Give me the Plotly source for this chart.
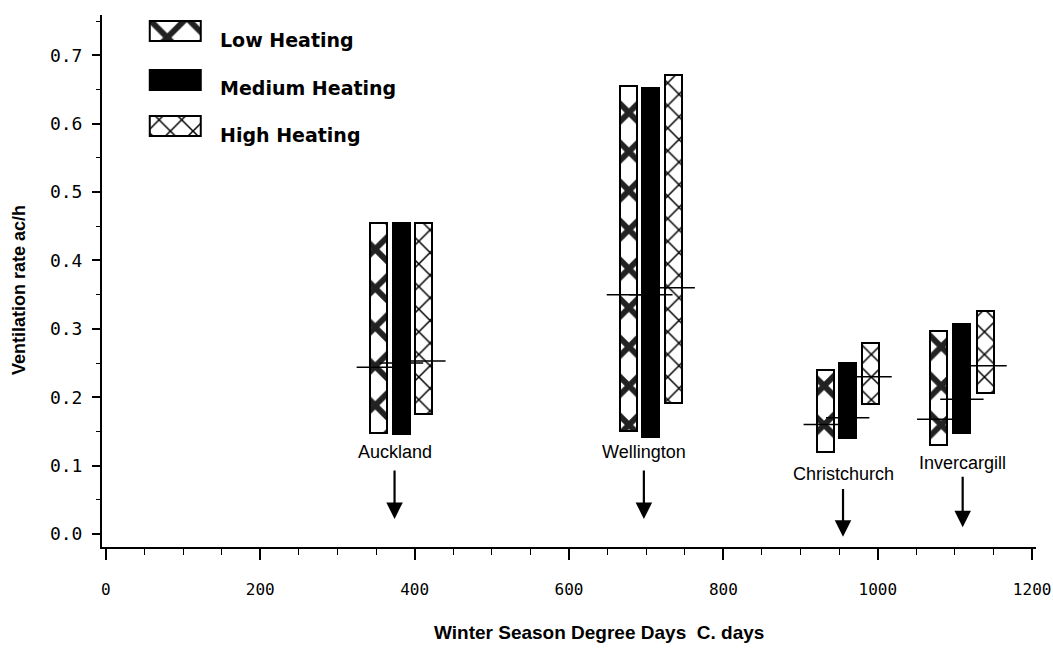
import plotly.graph_objects as go

# ---------------- data ----------------
cities = ["Auckland", "Wellington", "Christchurch", "Invercargill"]
degree_days = [374, 697, 955, 1110]          # arrow positions (C. days)

low_x = [353, 677, 932, 1079]
med_x = [383, 706, 961, 1109]
high_x = [412, 735, 990, 1139]

low_min = [0.148, 0.150, 0.120, 0.130]
low_max = [0.455, 0.655, 0.240, 0.297]
low_mean = [0.244, 0.350, 0.160, 0.168]

med_min = [0.146, 0.142, 0.140, 0.148]
med_max = [0.455, 0.652, 0.250, 0.307]
med_mean = [0.250, 0.350, 0.170, 0.197]

high_min = [0.175, 0.191, 0.190, 0.206]
high_max = [0.455, 0.671, 0.280, 0.326]
high_mean = [0.253, 0.360, 0.230, 0.246]

series_names = ["Low Heating", "Medium Heating", "High Heating"]
y_ticks = [0.0, 0.1, 0.2, 0.3, 0.4, 0.5, 0.6, 0.7]
x_ticks = [0, 200, 400, 600, 800, 1000, 1200]

# annotation placement (value-axis units)
label_y = [0.120, 0.120, 0.088, 0.104]
arrow_tail = [0.095, 0.095, 0.068, 0.086]
arrow_tip = [0.022, 0.022, -0.004, 0.010]

# ---------------- styles ----------------
BAR_W = 22
X_RANGE = [-5, 1205]
ML, MR = 102, 17
PLOT_W = 1053 - ML - MR
PAT_SHIFT = 0  # px offset of the low-heating pattern subplot (aligns hatch motif)
px_per_unit = PLOT_W / (X_RANGE[1] - X_RANGE[0])

low_pat = dict(shape="x", size=27.6, solidity=0.38, fgcolor="#222222", fgopacity=1,
               bgcolor="white")
high_pat = dict(shape="x", size=16, solidity=0.18, fgcolor="black", fgopacity=1,
                bgcolor="white")
outline = dict(color="black", width=2)

fig = go.Figure()


def diff(a, b):
    return [hi - lo for lo, hi in zip(a, b)]


fig.add_trace(go.Bar(x=med_x, y=diff(med_min, med_max), base=med_min, width=BAR_W,
                     marker=dict(color="black", line=outline),
                     name=series_names[1], showlegend=False))
fig.add_trace(go.Bar(x=high_x, y=diff(high_min, high_max), base=high_min, width=BAR_W,
                     marker=dict(color="white", line=outline, pattern=high_pat),
                     name=series_names[2], showlegend=False))
# low heating bars on an identical-scale x axis (separate subplot for pattern phase)
fig.add_trace(go.Bar(x=low_x, y=diff(low_min, low_max), base=low_min, width=BAR_W,
                     marker=dict(color="white", line=outline, pattern=low_pat),
                     name=series_names[0], showlegend=False, xaxis="x3", yaxis="y"))

for xs, ms in [(low_x, low_mean), (med_x, med_mean), (high_x, high_mean)]:
    fig.add_trace(go.Scatter(x=xs, y=ms, mode="markers", showlegend=False,
                             xaxis="x3", yaxis="y", cliponaxis=False,
                             marker=dict(symbol="line-ew", size=31,
                                         line=dict(color="black", width=1.5))))

# legend swatches on a hidden sub-axis
sw_y = [31, 79.5, 126]
sw_markers = [dict(color="white", line=outline, pattern=low_pat),
              dict(color="black", line=outline),
              dict(color="white", line=outline, pattern=high_pat)]
for yy, mk in zip(sw_y, sw_markers):
    fig.add_trace(go.Bar(x=[1], y=[yy], base=0, orientation="h", width=20,
                         marker=mk, xaxis="x2", yaxis="y2", showlegend=False))

annotations = []
for name, yy in zip(series_names, [0.953, 0.8628, 0.7744]):
    annotations.append(dict(xref="paper", yref="paper", x=0.1242, y=yy,
                            xanchor="left", yanchor="middle", showarrow=False,
                            text=name,
                            font=dict(family="DejaVu Sans", size=19, weight="bold",
                                      color="black")))

for c, dd, ly, t0, t1 in zip(cities, degree_days, label_y, arrow_tail, arrow_tip):
    annotations.append(dict(x=dd, y=ly, xref="x", yref="y", text=c, showarrow=False,
                            xanchor="center", yanchor="middle",
                            font=dict(family="Liberation Sans", size=18, color="black")))
    annotations.append(dict(x=dd, y=t1, ax=dd, ay=t0, xref="x", yref="y",
                            axref="x", ayref="y", text="", showarrow=True,
                            arrowhead=2, arrowsize=1.5, arrowwidth=2.2,
                            arrowcolor="black"))

annotations.append(dict(xref="paper", yref="paper", x=0.532, y=-0.16,
                        text="Winter Season Degree Days  C. days", showarrow=False,
                        xanchor="center", yanchor="middle",
                        font=dict(family="Liberation Sans", size=19, weight="bold",
                                  color="black")))
annotations.append(dict(xref="paper", yref="paper", x=-0.0889, y=0.483,
                        text="Ventilation rate ac/h", showarrow=False, textangle=-90,
                        xanchor="center", yanchor="middle",
                        font=dict(family="Liberation Sans", size=18, weight="bold",
                                  color="black")))

fig.update_layout(
    width=1053, height=649,
    margin=dict(l=ML, r=MR, t=15, b=102, autoexpand=False),
    paper_bgcolor="white", plot_bgcolor="rgba(0,0,0,0)",
    barmode="overlay", bargap=0,
    annotations=annotations,
    xaxis=dict(range=X_RANGE, tickvals=x_ticks, ticks="outside", ticklen=11,
               tickwidth=1.5, tickcolor="black", showline=True, linecolor="black",
               linewidth=2, showgrid=False, zeroline=False, automargin=False,
               minor=dict(dtick=50, tick0=0, ticks="outside", ticklen=6,
                          tickwidth=1.2, tickcolor="black"),
               tickfont=dict(family="DejaVu Sans Mono", size=16, color="black"),
               ticklabelstandoff=16, ticklabeloverflow="allow"),
    xaxis3=dict(domain=[PAT_SHIFT / PLOT_W, 1],
                range=[X_RANGE[0] + PAT_SHIFT / px_per_unit, X_RANGE[1]],
                anchor="y", visible=False, showgrid=False, zeroline=False,
                automargin=False),
    yaxis=dict(range=[-0.019, 0.759], tickvals=y_ticks, tickformat=".1f",
               ticks="outside", ticklen=8, tickwidth=1.5, tickcolor="black",
               showline=True, linecolor="black", linewidth=2, showgrid=False,
               zeroline=False, automargin=False,
               minor=dict(dtick=0.05, tick0=0, ticks="outside", ticklen=4,
                          tickwidth=1, tickcolor="black"),
               tickfont=dict(family="DejaVu Sans Mono", size=18, color="black"),
               ticklabelstandoff=6),
    xaxis2=dict(domain=[0.049, 0.1077], range=[-0.03, 1.03], visible=False,
                anchor="y2", fixedrange=True, automargin=False),
    yaxis2=dict(domain=[0.7688, 0.9944], range=[138, 18], visible=False,
                anchor="x2", fixedrange=True, automargin=False),
)

fig.write_html("out.html", config={"displayModeBar": False},
               post_script="document.body.style.margin='0';document.body.style.overflow='hidden';")
